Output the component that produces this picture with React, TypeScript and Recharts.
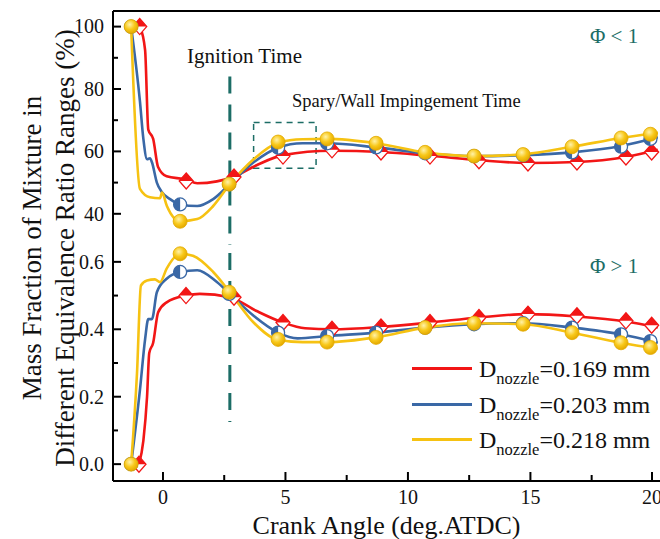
import { ComposedChart, Line, XAxis, YAxis, ReferenceLine, ReferenceArea, Legend } from "recharts";

const FONT = "'Liberation Serif', 'Times New Roman', serif";
const TEAL = "#1c6d66";
const RED = "#f21616";
const BLUE = "#3a68a6";
const YELLOW = "#f6c212";

const X_DOMAIN = [-2.04, 20.29];
const X_TICKS = [0, 2.5, 5, 7.5, 10, 12.5, 15, 17.5, 20];
const X_MAJOR = [0, 5, 10, 15, 20];
const TOP_TICKS = [40, 50, 60, 70, 80, 90, 100];
const TOP_MAJOR = [40, 60, 80, 100];
const BOT_TICKS = [0, 0.1, 0.2, 0.3, 0.4, 0.5, 0.6];
const BOT_MAJOR = [0, 0.2, 0.4, 0.6];

const IGNITION = 2.73;
const NOZZLES = ["0.169", "0.203", "0.218"];

// Φ < 1, curves
const redTop = [
  [-0.94, 100], [-0.73, 92.5], [-0.6, 67], [-0.4, 64], [-0.2, 55], [0.15, 52], [0.94, 51],
  [1.4, 49.8], [2.2, 50.4], [2.86, 51.8], [3.8, 55.5], [4.9, 58.8], [6.9, 60.2], [8.9, 59.8],
  [10.9, 58.6], [12.9, 57.2], [14.86, 56.3], [16.9, 56.6], [18.9, 58.2], [20.2, 60.5],
];
const blueTop = [
  [-1.3, 100], [-0.94, 76], [-0.8, 64], [-0.65, 57.5], [-0.53, 57.8], [-0.45, 56.5], [-0.25, 50],
  [-0.05, 47], [0.29, 44.7], [0.7, 43], [1.4, 42.5], [2.05, 44.7], [2.73, 49.5], [3.7, 56.5],
  [4.7, 61.2], [5.7, 62.6], [6.7, 62.6], [8.7, 61.3], [10.7, 59.4], [12.7, 58.5], [14.7, 58.8],
  [16.7, 59.7], [18.7, 61.7], [20.2, 64.5],
];
const yellowTop = [
  [-1.3, 100], [-0.94, 48], [-0.53, 45.3], [-0.12, 45], [-0.04, 46.8], [0.16, 42.5], [0.7, 37.6],
  [1.4, 38.3], [2.05, 42.5], [2.73, 49.5], [3.7, 57.5], [4.7, 62.8], [5.7, 63.9], [6.7, 64],
  [8.7, 62.6], [10.7, 59.7], [12.7, 58.5], [14.7, 59.1], [16.7, 61.5], [18.7, 64.3], [20.2, 66],
];
// Φ < 1, markers
const redTopMarks = [
  [-0.95, 100], [0.95, 50.5], [2.9, 51.8], [4.9, 58.5], [6.9, 60.5], [8.9, 59.8], [10.9, 58.5],
  [12.9, 57], [14.9, 56.3], [16.9, 56.6], [18.9, 58.2], [19.95, 59.8],
];
const blueTopMarks = [
  [-1.3, 100], [0.7, 43], [2.7, 49.5], [4.7, 61.2], [6.7, 62.6], [8.7, 61.3], [10.7, 59.4],
  [12.7, 58.5], [14.7, 58.8], [16.7, 59.7], [18.7, 61.5], [19.9, 64],
];
const yellowTopMarks = [
  [-1.3, 100], [0.7, 37.6], [2.7, 49.5], [4.7, 63], [6.7, 64], [8.7, 62.6], [10.7, 59.7],
  [12.7, 58.5], [14.7, 59], [16.7, 61.5], [18.7, 64.3], [19.9, 65.5],
];

// Φ > 1, curves
const redBot = [
  [-0.98, 0], [-0.8, 0.07], [-0.65, 0.2], [-0.56, 0.33], [-0.4, 0.36], [-0.2, 0.45], [0.15, 0.48],
  [0.94, 0.5], [1.5, 0.505], [2.73, 0.495], [3.8, 0.455], [4.9, 0.42], [5.8, 0.403], [6.9, 0.4],
  [8.9, 0.407], [10.9, 0.42], [12.9, 0.435], [14.86, 0.445], [16.9, 0.438], [18.9, 0.423], [20.2, 0.405],
];
const blueBot = [
  [-1.3, 0], [-0.94, 0.22], [-0.73, 0.37], [-0.6, 0.43], [-0.45, 0.43], [-0.25, 0.51], [0.15, 0.55],
  [0.7, 0.57], [1.4, 0.575], [2.2, 0.54], [2.73, 0.505], [3.7, 0.44], [4.7, 0.39], [5.5, 0.373],
  [6.7, 0.38], [8.7, 0.39], [10.7, 0.405], [12.7, 0.415], [14.7, 0.418], [16.7, 0.405], [18.7, 0.385],
  [20.2, 0.36],
];
const yellowBot = [
  [-1.3, 0], [-1.06, 0.27], [-0.9, 0.53], [-0.65, 0.545], [-0.33, 0.548], [-0.12, 0.54], [0.15, 0.58],
  [0.7, 0.624], [1.22, 0.618], [2.05, 0.57], [2.73, 0.51], [3.7, 0.42], [4.65, 0.37], [5.7, 0.362],
  [6.7, 0.362], [8.7, 0.376], [10.7, 0.405], [12.7, 0.418], [14.7, 0.415], [16.7, 0.39], [18.7, 0.36],
  [20.2, 0.342],
];
// Φ > 1, markers
const redBotMarks = [
  [-0.98, 0], [0.94, 0.5], [2.9, 0.495], [4.9, 0.42], [6.9, 0.4], [8.9, 0.407], [10.9, 0.42],
  [12.9, 0.435], [14.9, 0.445], [16.9, 0.44], [18.9, 0.425], [19.95, 0.412],
];
const blueBotMarks = [
  [-1.3, 0], [0.7, 0.57], [2.7, 0.505], [4.7, 0.39], [6.7, 0.38], [8.7, 0.39], [10.7, 0.405],
  [12.7, 0.415], [14.7, 0.418], [16.7, 0.405], [18.7, 0.385], [19.9, 0.365],
];
const yellowBotMarks = [
  [-1.3, 0], [0.7, 0.624], [2.7, 0.51], [4.7, 0.37], [6.7, 0.362], [8.7, 0.376], [10.7, 0.405],
  [12.7, 0.418], [14.7, 0.415], [16.7, 0.39], [18.7, 0.36], [19.9, 0.346],
];

const pts = (arr: number[][]) => arr.map(([x, y]) => ({ x, y }));
const isMajor = (v: number, list: number[]) => list.some((m) => Math.abs(m - v) < 1e-9);

const TICK_GAP = 8;

function YTick(props: any) {
  const { x, y, payload, majors, digits } = props;
  const ax = x + TICK_GAP;
  const major = isMajor(payload.value, majors);
  return (
    <g>
      <line x1={ax} x2={ax + (major ? 8 : 5)} y1={y} y2={y} stroke="#000" strokeWidth={2} />
      {major && (
        <text x={x - 1} y={y} dy="0.34em" textAnchor="end" fontSize={20} fontFamily={FONT} fill="#111">
          {payload.value.toFixed(digits)}
        </text>
      )}
    </g>
  );
}

function XTick(props: any) {
  const { x, y, payload } = props;
  const ay = y - 10;
  const major = isMajor(payload.value, X_MAJOR);
  return (
    <g>
      <line x1={x} x2={x} y1={ay} y2={ay - (major ? 8 : 5)} stroke="#000" strokeWidth={2} />
      {major && (
        <text x={x} y={y} dy="0.7em" textAnchor="middle" fontSize={20} fontFamily={FONT} fill="#111">
          {payload.value}
        </text>
      )}
    </g>
  );
}

function RedMark({ cx, cy }: any) {
  return (
    <g>
      <path d={`M${cx - 7},${cy} L${cx},${cy - 8} L${cx + 7},${cy} L${cx},${cy + 8} Z`} fill="#fff" stroke={RED} strokeWidth={1.3} />
      <path d={`M${cx - 7},${cy} L${cx},${cy - 8} L${cx + 7},${cy} Z`} fill={RED} />
    </g>
  );
}

function BlueMark({ cx, cy }: any) {
  const r = 6.5;
  return (
    <g>
      <circle cx={cx} cy={cy} r={r} fill="#fff" stroke={BLUE} strokeWidth={1.3} />
      <path d={`M${cx},${cy - r} A${r},${r} 0 0 0 ${cx},${cy + r} Z`} fill={BLUE} />
    </g>
  );
}

function YellowMark({ cx, cy, grad }: any) {
  return <circle cx={cx} cy={cy} r={7} fill={`url(#${grad})`} stroke="#e2aa00" strokeWidth={0.8} />;
}

function Defs({ id }: { id: string }) {
  return (
    <defs>
      <radialGradient id={id} cx="40%" cy="35%" r="65%">
        <stop offset="0%" stopColor="#fff2a8" />
        <stop offset="55%" stopColor="#f8c81a" />
        <stop offset="100%" stopColor="#e4a900" />
      </radialGradient>
    </defs>
  );
}

function curves(red: number[][], blue: number[][], yellow: number[][], named: boolean) {
  const list = [
    { d: red, c: RED, n: NOZZLES[0] },
    { d: blue, c: BLUE, n: NOZZLES[1] },
    { d: yellow, c: YELLOW, n: NOZZLES[2] },
  ];
  return list.map((s) => (
    <Line
      key={s.n}
      data={pts(s.d)}
      dataKey="y"
      name={s.n}
      type="monotone"
      stroke={s.c}
      strokeWidth={2.6}
      dot={false}
      activeDot={false}
      legendType={named ? "line" : "none"}
      isAnimationActive={false}
    />
  ));
}

function marks(red: number[][], blue: number[][], yellow: number[][], grad: string) {
  return [
    <Line key="rm" data={pts(red)} dataKey="y" stroke="none" legendType="none" activeDot={false}
      dot={(p: any) => <RedMark key={`r${p.index}`} cx={p.cx} cy={p.cy} />} isAnimationActive={false} />,
    <Line key="bm" data={pts(blue)} dataKey="y" stroke="none" legendType="none" activeDot={false}
      dot={(p: any) => <BlueMark key={`b${p.index}`} cx={p.cx} cy={p.cy} />} isAnimationActive={false} />,
    <Line key="ym" data={pts(yellow)} dataKey="y" stroke="none" legendType="none" activeDot={false}
      dot={(p: any) => <YellowMark key={`y${p.index}`} cx={p.cx} cy={p.cy} grad={grad} />} isAnimationActive={false} />,
  ];
}

function LegendBox({ payload }: any) {
  const items = (payload || []).filter((p: any) => p.type !== "none");
  return (
    <div style={{ fontFamily: FONT, color: "#111" }}>
      {items.map((p: any) => (
        <div key={p.value} style={{ display: "flex", alignItems: "center", height: 35.5 }}>
          <span style={{ display: "inline-block", width: 60, height: 3, background: p.color, marginRight: 7, marginTop: -4 }} />
          <span style={{ fontSize: 24, lineHeight: "24px", whiteSpace: "nowrap" }}>
            D<span style={{ fontSize: 16.5, position: "relative", top: 7 }}>nozzle</span>={p.value} mm
          </span>
        </div>
      ))}
    </div>
  );
}

export default function App() {
  return (
    <div style={{ position: "relative", width: 660, height: 539, background: "#fff", fontFamily: FONT, overflow: "hidden" }}>
      <style>{"body{margin:0}"}</style>
      <div style={{ position: "absolute", left: 0, top: 0 }}>
        <ComposedChart width={660} height={245} margin={{ top: 11, right: 0, bottom: 0, left: 0 }}>
          <Defs id="ballTop" />
          <XAxis type="number" dataKey="x" domain={X_DOMAIN} allowDataOverflow ticks={X_TICKS} tick={false}
            tickLine={false} height={0} axisLine={{ stroke: "#000", strokeWidth: 2 }} />
          <YAxis type="number" domain={[30, 105]} allowDataOverflow ticks={TOP_TICKS} width={113}
            tickSize={0} tickMargin={TICK_GAP} tickLine={false} axisLine={{ stroke: "#000", strokeWidth: 2 }}
            tick={(p: any) => <YTick {...p} majors={TOP_MAJOR} digits={0} />} />
          <ReferenceLine y={105} stroke="#000" strokeWidth={2} />
          <ReferenceLine segment={[{ x: IGNITION, y: 84 }, { x: IGNITION, y: 30 }]} stroke={TEAL} strokeWidth={3} strokeDasharray="17 11" />
          <ReferenceArea x1={3.7} x2={6.25} y1={54.6} y2={69.3} fill="none" stroke={TEAL} strokeWidth={1.5} strokeDasharray="6 5" />
          {curves(redTop, blueTop, yellowTop, false)}
          {marks(redTopMarks, blueTopMarks, yellowTopMarks, "ballTop")}
        </ComposedChart>
      </div>
      <div style={{ position: "absolute", left: 0, top: 245 }}>
        <ComposedChart width={660} height={294} margin={{ top: 0, right: 0, bottom: 0, left: 0 }}>
          <Defs id="ballBot" />
          <XAxis type="number" dataKey="x" domain={X_DOMAIN} allowDataOverflow ticks={X_TICKS} height={58}
            tickSize={0} tickMargin={9} tickLine={false} axisLine={{ stroke: "#000", strokeWidth: 2 }}
            tick={(p: any) => <XTick {...p} />}
            label={{ value: "Crank Angle (deg.ATDC)", position: "insideBottom", offset: 5, fontSize: 26, fill: "#111", fontFamily: FONT }} />
          <YAxis type="number" domain={[-0.05, 0.65]} allowDataOverflow ticks={BOT_TICKS} width={113}
            tickSize={0} tickMargin={TICK_GAP} tickLine={false} axisLine={{ stroke: "#000", strokeWidth: 2 }}
            tick={(p: any) => <YTick {...p} majors={BOT_MAJOR} digits={1} />} />
          <ReferenceLine segment={[{ x: IGNITION, y: 0.65 }, { x: IGNITION, y: 0.125 }]} stroke={TEAL} strokeWidth={3} strokeDasharray="17 11" strokeDashoffset={-8} />
          {curves(redBot, blueBot, yellowBot, true)}
          {marks(redBotMarks, blueBotMarks, yellowBotMarks, "ballBot")}
          <Legend layout="vertical" align="center" verticalAlign="middle" content={<LegendBox />}
            wrapperStyle={{ left: 412, top: 108, width: 250 }} />
        </ComposedChart>
      </div>
      <svg width={660} height={539} style={{ position: "absolute", left: 0, top: 0, pointerEvents: "none" }}>
        <g fontFamily={FONT} fill="#111">
          <text x={32} y={248} fontSize={27} textAnchor="middle" dominantBaseline="central" transform="rotate(-90 32 248)">
            Mass Fraction of Mixture in
          </text>
          <text x={65} y={248} fontSize={27} textAnchor="middle" dominantBaseline="central" transform="rotate(-90 65 248)">
            Different Equivalence Ratio Ranges (%)
          </text>
          <text x={187} y={63} fontSize={21}>Ignition Time</text>
          <text x={292} y={107} fontSize={18.5}>Spary/Wall Impingement Time</text>
        </g>
        <text x={590} y={43} fontSize={21} fontFamily={FONT} fill={TEAL}>Φ &lt; 1</text>
        <text x={590} y={273} fontSize={21} fontFamily={FONT} fill={TEAL}>Φ &gt; 1</text>
      </svg>
    </div>
  );
}
